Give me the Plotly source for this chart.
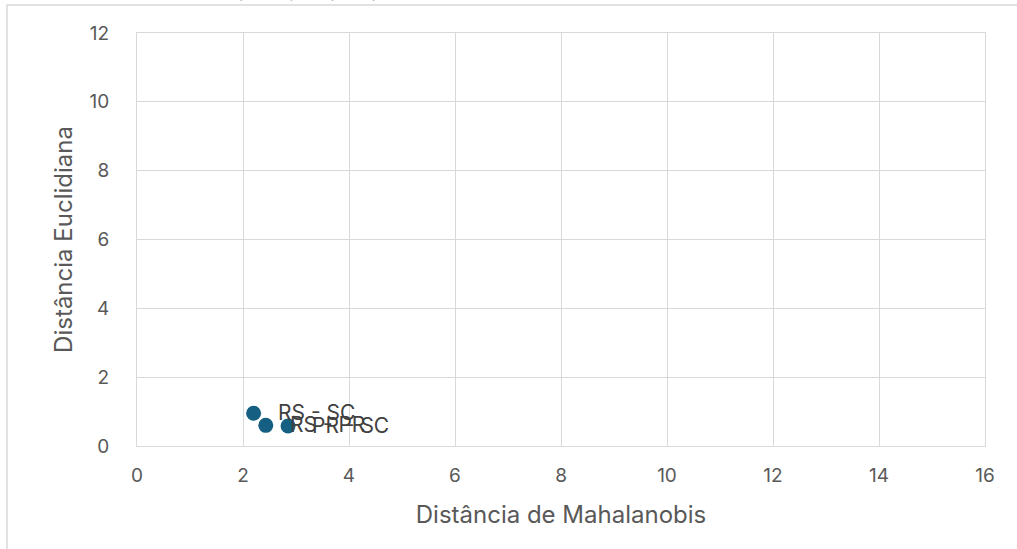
import plotly.graph_objects as go

# Pairwise distances between states
pares = ["RS - SC", "RS - PR", "PR - SC"]
dist_mahalanobis = [2.2, 2.43, 2.85]
dist_euclidiana = [0.95, 0.6, 0.58]

x_ticks = [0, 2, 4, 6, 8, 10, 12, 14, 16]
y_ticks = [0, 2, 4, 6, 8, 10, 12]

FONT = "Inter"
GRID = "#d9d9d9"
TXT = "#595959"

W, H = 1017, 549
L, R, T, B = 137, 32, 33, 103
pw, ph = W - L - R, H - T - B

fig = go.Figure()
fig.add_trace(go.Scatter(
    x=dist_mahalanobis, y=dist_euclidiana,
    mode="markers", marker=dict(size=15, color="#156082"),
    cliponaxis=False, showlegend=False,
))

# Point labels to the right of each marker
for nome, xv, yv in zip(pares, dist_mahalanobis, dist_euclidiana):
    fig.add_annotation(x=xv, y=yv, text=nome, showarrow=False,
                       xanchor="left", yanchor="middle", xshift=22, yshift=1,
                       font=dict(family=FONT, size=21, color="#404040"))

axis_common = dict(
    showgrid=True, gridcolor=GRID, gridwidth=1,
    zeroline=False, showline=True, linecolor=GRID, linewidth=1, mirror=True,
    ticks="", tickfont=dict(family=FONT, size=19, color=TXT),
)
fig.update_xaxes(range=[0, 16], tickvals=x_ticks, ticklabelstandoff=12,
                 title=dict(text="Distância de Mahalanobis", standoff=20,
                            font=dict(family=FONT, size=24, color=TXT)),
                 **axis_common)
fig.update_yaxes(range=[0, 12], tickvals=y_ticks, ticklabelstandoff=23,
                 title=dict(text="Distância Euclidiana", standoff=10,
                            font=dict(family=FONT, size=24, color=TXT)),
                 **axis_common)

# Outer chart frame
fig.add_shape(type="rect", xref="paper", yref="paper",
              x0=(7 - L) / pw, x1=1.2, y0=-0.5, y1=(H - B - 5) / ph,
              line=dict(color=GRID, width=1.5), fillcolor="rgba(0,0,0,0)", layer="below")

# Chart title sitting above the visible frame
fig.add_annotation(text="Comparação por pares: distâncias de Mahalanobis e Euclidiana",
                   xref="paper", yref="paper", x=0.45, y=(H - B - 3.5) / ph,
                   xanchor="center", yanchor="bottom", showarrow=False,
                   font=dict(family=FONT, size=22, color="#000000"))

fig.update_layout(
    width=W, height=H, margin=dict(l=L, r=R, t=T, b=B),
    paper_bgcolor="white", plot_bgcolor="white",
)
fig.write_html("out.html")
